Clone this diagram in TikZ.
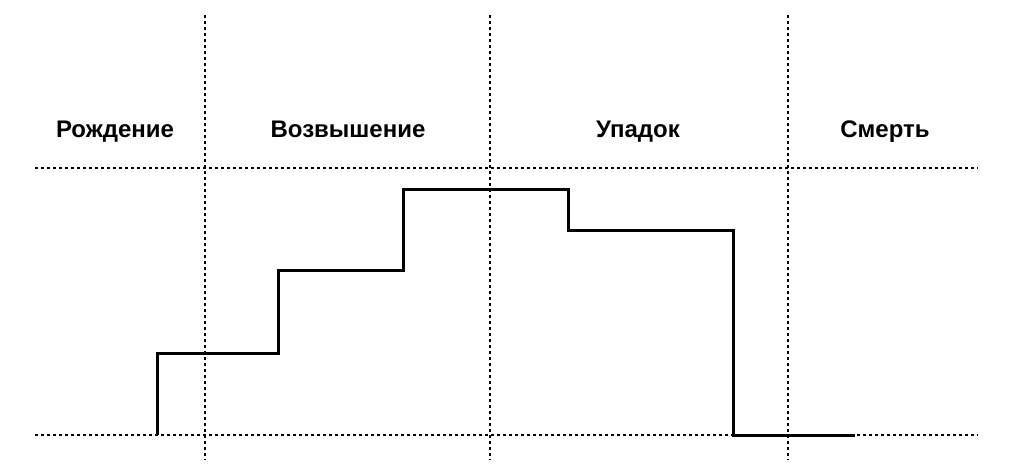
\documentclass[tikz,border=0pt]{standalone}
\usepackage{fontspec}
\setmainfont{Liberation Sans}
\begin{document}
\begin{tikzpicture}[x=1pt,y=-1pt,
  grid/.style={line width=1.6pt,dash pattern=on 2.5pt off 3.5pt},
  lbl/.style={font=\fontsize{24}{28}\selectfont\bfseries,anchor=base},
  curve/.style={line width=3pt}]
\useasboundingbox (0,0) rectangle (1015,469);
\foreach \x in {205,490,788} \draw[grid] (\x,15) -- (\x,460);
\draw[grid] (35,168) -- (978,168);
\draw[grid] (35,435) -- (978,435);
\coordinate (s) at (157,435);
\coordinate (e) at (855,435);
\draw[curve] (s) |- (278,353) |- (403,270) |- (568,189) |- (733,230) |- (e);
\node[lbl] (a) at (115,137) {Рождение};
\node[lbl] (b) at (348,137) {Возвышение};
\node[lbl] (c) at (638,137) {Упадок};
\node[lbl] (d) at (885,137) {Смерть};
\end{tikzpicture}
\end{document}
